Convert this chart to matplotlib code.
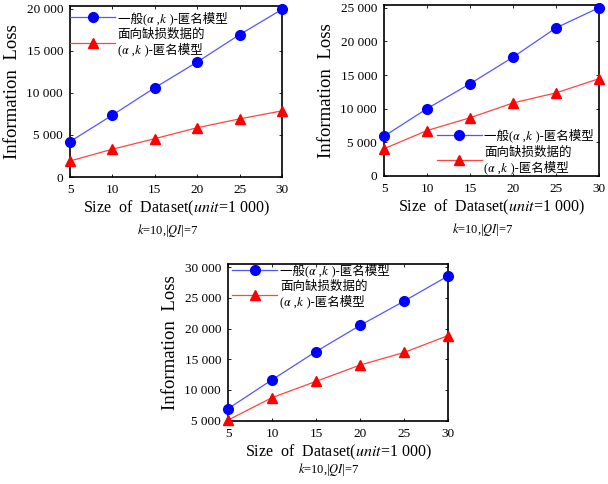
import matplotlib
matplotlib.use("Agg")
import matplotlib.pyplot as plt
from matplotlib.ticker import FuncFormatter

plt.rcParams['font.family'] = ['Liberation Serif', 'Noto Sans CJK SC', 'STIXGeneral',
                               'DejaVu Serif', 'DejaVu Sans']
plt.rcParams['mathtext.fontset'] = 'stix'

sizes = [5, 10, 15, 20, 25, 30]

# panel 1
general_1 = [4200, 7350, 10600, 13650, 16900, 19900]
missing_1 = [1900, 3300, 4550, 5850, 6900, 7850]
# panel 2
general_2 = [5900, 10000, 13700, 17650, 22000, 25000]
missing_2 = [4050, 6750, 8650, 10850, 12350, 14450]
# panel 3
general_3 = [6950, 11650, 16250, 20500, 24450, 28550]
missing_3 = [5100, 8750, 11400, 14050, 16100, 18850]

yticks_1 = [0, 5000, 10000, 15000, 20000]
yticks_2 = [0, 5000, 10000, 15000, 20000, 25000]
yticks_3 = [5000, 10000, 15000, 20000, 25000, 30000]

# math italic alpha / k as plain unicode so the CJK glyphs still work
label_general = "一般(\U0001D6FC ,\U0001D458 )-匿名模型"
label_missing = "面向缺损数据的\n(\U0001D6FC ,\U0001D458 )-匿名模型"


def thousands(v, pos):
    return "{:,}".format(int(v)).replace(",", " ")


def panel(rect, blue, red, yticks, ylim, legend_kw):
    ax = fig.add_axes(rect)
    ax.plot(sizes, blue, "-", color="#5555ff", lw=0.9, marker="o", ms=7,
            mfc="#0000ff", mec="#0000ff", clip_on=False, zorder=3,
            label=label_general)
    ax.plot(sizes, red, "-", color="#ff4444", lw=0.9, marker="^", ms=7.5,
            mfc="#ff0000", mec="#ff0000", clip_on=False, zorder=3,
            label=label_missing)
    ax.set_xlim(5, 30)
    ax.set_ylim(*ylim)
    ax.set_xticks(sizes)
    ax.set_yticks(yticks)
    ax.yaxis.set_major_formatter(FuncFormatter(thousands))
    ax.tick_params(direction="in", length=2, width=0.6, top=True, right=True,
                   labelsize=9.5, pad=5)
    for s in ax.spines.values():
        s.set_linewidth(1.2)
    ax.set_ylabel("Information  Loss", fontsize=13.5, labelpad=4)
    ax.set_xlabel("Size  of  Dataset($\\mathit{unit}$=1 000)", fontsize=11.5,
                  labelpad=2)
    ax.text(0.46, -0.31, "$k$=10,|$QI$|=7", transform=ax.transAxes,
            ha="center", va="center", fontsize=9)
    ax.legend(frameon=False, fontsize=9, handlelength=3.6, handletextpad=0.2,
              labelspacing=0.3, borderaxespad=0, borderpad=0, **legend_kw)
    return ax


fig = plt.figure(figsize=(6.08, 4.84), dpi=100)

panel([70 / 608, 307 / 484, 212 / 608, 171 / 484], general_1, missing_1,
      yticks_1, (0, 20300),
      dict(loc="upper left", bbox_to_anchor=(0.0, 0.97)))
panel([384 / 608, 308 / 484, 215 / 608, 171 / 484], general_2, missing_2,
      yticks_2, (0, 25400),
      dict(loc="lower left", bbox_to_anchor=(0.245, 0.01)))
panel([228 / 608, 63 / 484, 220 / 608, 157 / 484], general_3, missing_3,
      yticks_3, (4950, 30500),
      dict(loc="upper left", bbox_to_anchor=(0.02, 1.005)))

fig.savefig("out.png", dpi=100)
